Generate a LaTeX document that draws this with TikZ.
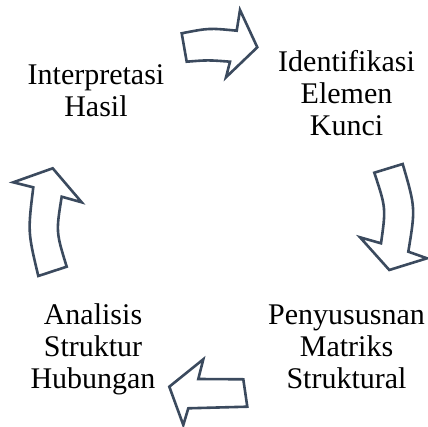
\documentclass[tikz,border=0pt]{standalone}
\usepackage{fontspec}
\setmainfont{Liberation Serif}
\begin{document}
\begin{tikzpicture}[x=1pt,y=-1pt,
  lbl/.style={font=\fontsize{30}{32}\selectfont, align=center, anchor=base, inner sep=0pt},
  arr/.style={draw=arrowc, line width=2.6pt, line join=miter, fill=white}]
\definecolor{arrowc}{HTML}{3B4A5E}
\useasboundingbox (0,0) rectangle (428,427);
% labels (anchor = baseline of last line)
\node[lbl] (interp) at (96,117) {Interpretasi\\Hasil};
\node[lbl] (ident) at (346.5,136) {Identifikasi\\Elemen\\Kunci};
\node[lbl] (penyu) at (346.5,388) {Penyususnan\\Matriks\\Struktural};
\node[lbl] (anal) at (93,388) {Analisis\\Struktur\\Hubungan};
% top arrow
\draw[arr] (181.7,33.3) .. controls (209,28) .. (236.7,30.7) -- (240,10) -- (257.3,47.3) -- (226,77.3) -- (230,61.7) .. controls (208,60) .. (186.7,61.7) -- cycle;
% right arrow
\draw[arr] (374.3,172.7) -- (402.7,164) .. controls (415.5,208) .. (408.3,251.7) -- (427,258.3) -- (389.3,270) -- (360,237.3) -- (381,243.3) .. controls (386,208) .. (374.3,172.7) -- cycle;
% bottom arrow
\draw[arr] (203.3,359.3) -- (198.3,379) -- (243.3,379.3) -- (247.3,406.7) -- (188.3,408.3) -- (183.3,425) -- (169.3,386.7) -- cycle;
% left arrow
\draw[arr] (13.3,182.3) -- (52.7,168.3) -- (81.7,202.3) -- (61.7,196.7) .. controls (56,232) .. (66.7,266.7) -- (38.3,276) .. controls (27.8,232) .. (33.3,187.3) -- cycle;
\end{tikzpicture}
\end{document}
